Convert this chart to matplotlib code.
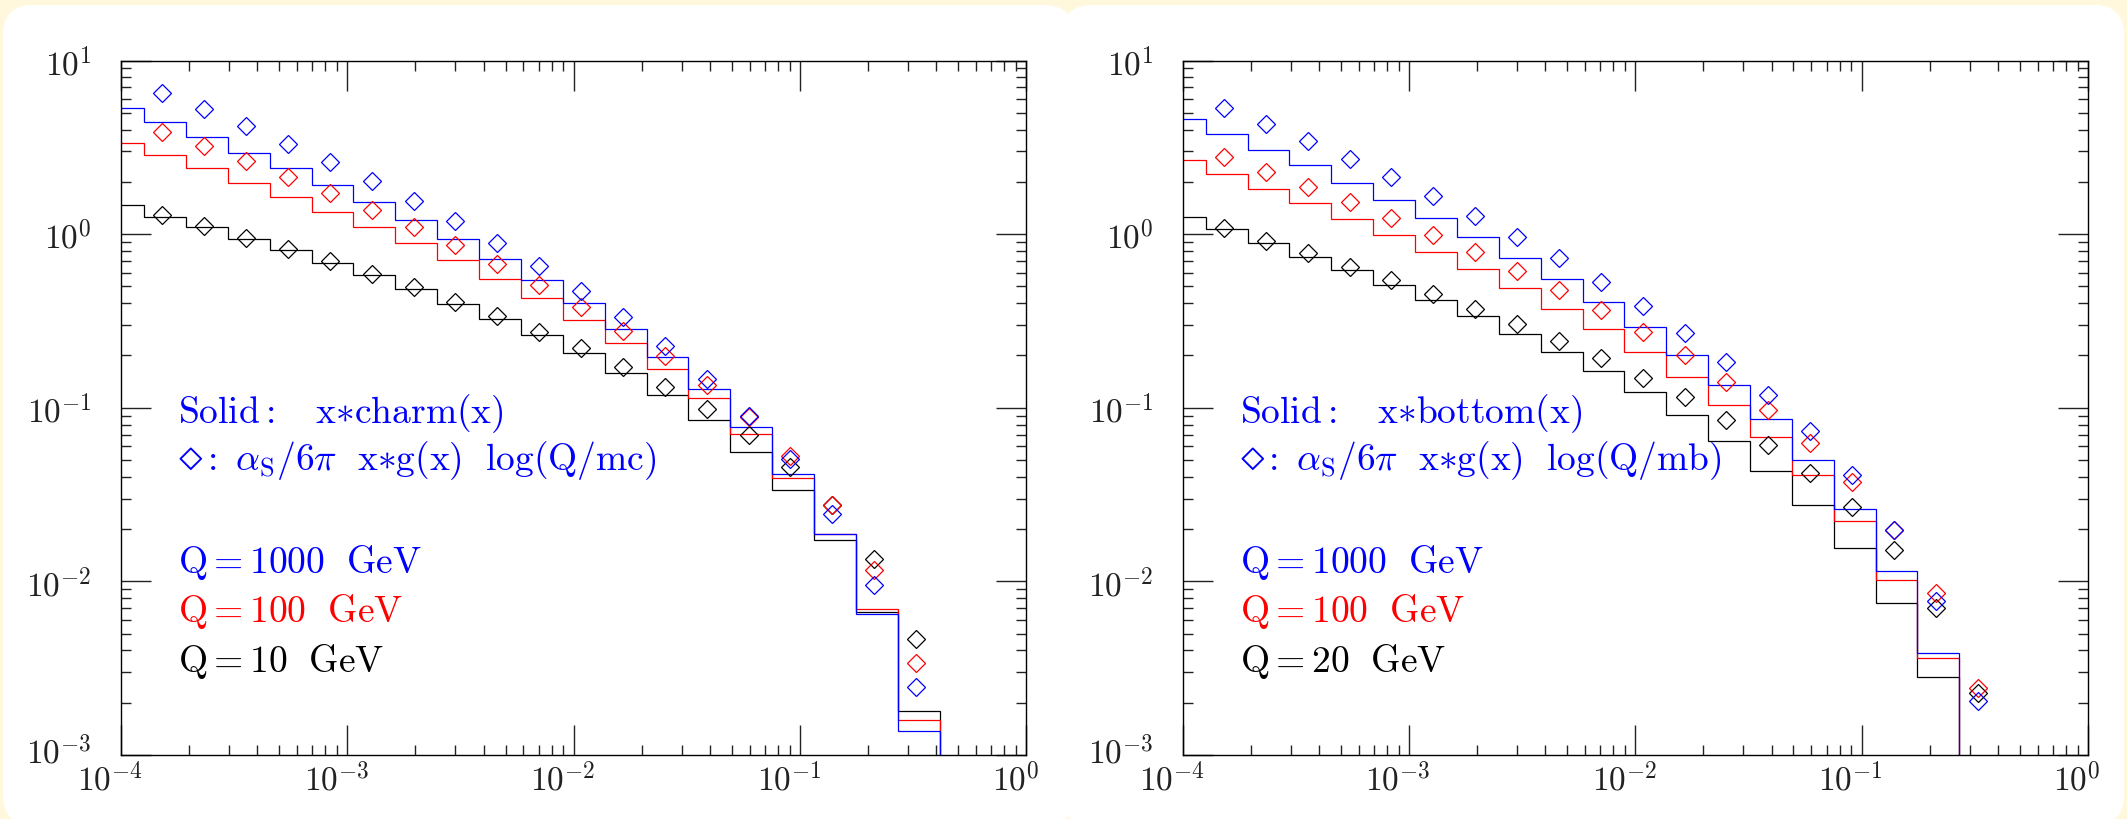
import matplotlib
matplotlib.use('Agg')
import matplotlib.pyplot as plt
from matplotlib.patches import FancyBboxPatch
from matplotlib.ticker import FixedLocator, FixedFormatter, LogLocator, NullFormatter
from matplotlib.transforms import ScaledTranslation

plt.rcParams['mathtext.fontset'] = 'cm'
plt.rcParams['font.family'] = ['DejaVu Serif']

# ---------------- data ----------------
# histogram bin edges in x (log-spaced bins)
edges_charm = [8.3e-5, 1.265e-4, 1.936e-4, 2.965e-4, 4.539e-4, 6.950e-4, 1.064e-3,
               1.629e-3, 2.495e-3, 3.819e-3, 5.848e-3, 8.954e-3, 1.371e-2, 2.099e-2,
               3.214e-2, 4.920e-2, 7.534e-2, 0.1154, 0.1766, 0.2704, 0.414]
edges_bottom = [8.3e-5, 1.265e-4, 1.936e-4, 2.965e-4, 4.539e-4, 6.950e-4, 1.064e-3,
                1.629e-3, 2.495e-3, 3.819e-3, 5.848e-3, 8.954e-3, 1.371e-2, 2.099e-2,
                3.214e-2, 4.920e-2, 7.534e-2, 0.1154, 0.1766, 0.2704]
# x positions of the diamonds
x_diamonds = [1.523e-4, 2.332e-4, 3.570e-4, 5.466e-4, 8.370e-4, 1.282e-3, 1.962e-3,
              3.005e-3, 4.601e-3, 7.044e-3, 1.079e-2, 1.651e-2, 2.528e-2, 3.871e-2,
              5.927e-2, 9.076e-2, 0.1390, 0.2128, 0.3258]

# left panel: x*charm(x) histograms
charm_1000 = [5.31, 4.40, 3.64, 2.95, 2.39, 1.93, 1.535, 1.209, 0.940, 0.721, 0.546,
              0.401, 0.284, 0.196, 0.128, 0.0771, 0.0413, 0.0188, 0.00646, 0.00137]
charm_100 = [3.37, 2.85, 2.39, 1.98, 1.64, 1.345, 1.092, 0.884, 0.706, 0.553, 0.430,
             0.322, 0.237, 0.168, 0.1133, 0.0707, 0.0394, 0.0188, 0.0069, 0.00159]
charm_10 = [1.469, 1.258, 1.092, 0.940, 0.809, 0.681, 0.578, 0.482, 0.397, 0.3255, 0.263,
            0.207, 0.159, 0.118, 0.0845, 0.0556, 0.0334, 0.0172, 0.0067, 0.0018]
# left panel: alpha_s/6pi x*g(x) log(Q/mc)
gc_1000 = [6.54, 5.25, 4.19, 3.31, 2.61, 2.03, 1.556, 1.188, 0.884, 0.651, 0.470, 0.333,
           0.226, 0.1465, 0.0896, 0.0507, 0.0245, 0.00957, 0.00248]
gc_100 = [3.88, 3.21, 2.63, 2.14, 1.73, 1.38, 1.097, 0.864, 0.669, 0.508, 0.381, 0.278,
          0.199, 0.1352, 0.0885, 0.053, 0.0274, 0.01162, 0.0034]
gc_10 = [1.29, 1.112, 0.953, 0.816, 0.697, 0.586, 0.493, 0.408, 0.337, 0.274, 0.2197, 0.171,
         0.132, 0.0987, 0.0695, 0.0458, 0.02767, 0.01342, 0.00464]

# right panel: x*bottom(x) histograms
bottom_1000 = [4.61, 3.78, 3.07, 2.486, 1.967, 1.570, 1.231, 0.957, 0.727, 0.551, 0.408,
               0.291, 0.202, 0.136, 0.0858, 0.050, 0.026, 0.01146, 0.00385]
bottom_100 = [2.656, 2.215, 1.824, 1.508, 1.220, 0.987, 0.791, 0.626, 0.491, 0.372, 0.2826,
              0.2085, 0.150, 0.1031, 0.068, 0.041, 0.0222, 0.01018, 0.00363]
bottom_20 = [1.253, 1.064, 0.891, 0.740, 0.6175, 0.5085, 0.415, 0.337, 0.266, 0.210, 0.1625,
             0.123, 0.091, 0.0645, 0.0435, 0.0274, 0.0155, 0.00748, 0.00281]
# right panel: alpha_s/6pi x*g(x) log(Q/mb)
gb_1000 = [5.32, 4.28, 3.42, 2.70, 2.14, 1.655, 1.269, 0.965, 0.724, 0.532, 0.385, 0.27,
           0.1824, 0.1187, 0.0733, 0.0411, 0.0197, 0.00775, 0.00204]
gb_100 = [2.776, 2.285, 1.873, 1.529, 1.236, 0.987, 0.784, 0.615, 0.478, 0.3634, 0.273, 0.20,
          0.1414, 0.0965, 0.0628, 0.0376, 0.0197, 0.00858, 0.00243]
gb_20 = [1.078, 0.915, 0.774, 0.6486, 0.543, 0.4494, 0.3683, 0.302, 0.242, 0.1923, 0.149,
         0.1148, 0.0854, 0.0614, 0.0423, 0.0268, 0.0152, 0.00705, 0.00227]

xticks = [1e-4, 1e-3, 1e-2, 1e-1, 1e0]
xticklabels = [r'$10^{-4}$', r'$10^{-3}$', r'$10^{-2}$', r'$10^{-1}$', r'$10^{0}$']
yticks = [1e-3, 1e-2, 1e-1, 1e0, 1e1]
yticklabels = [r'$10^{-3}$', r'$10^{-2}$', r'$10^{-1}$', r'$10^{0}$', r'$10^{1}$']

colors = ['black', 'red', 'blue']

panels = [
    dict(edges=edges_charm, hists=[charm_10, charm_100, charm_1000],
         diam=[gc_10, gc_100, gc_1000],
         line1=r'$\mathrm{Solid:}\ \ \ \mathrm{x}{\ast}\mathrm{charm(x)}$',
         line2=r'$\mathrm{:}\ \alpha_{\mathrm{S}}/6\pi\ \ \mathrm{x}{\ast}\mathrm{g(x)}\ \ \mathrm{log(Q/mc)}$',
         qlabels=[r'$\mathrm{Q{=}1000\ \ GeV}$', r'$\mathrm{Q{=}100\ \ GeV}$', r'$\mathrm{Q{=}10\ \ GeV}$']),
    dict(edges=edges_bottom, hists=[bottom_20, bottom_100, bottom_1000],
         diam=[gb_20, gb_100, gb_1000],
         line1=r'$\mathrm{Solid:}\ \ \ \mathrm{x}{\ast}\mathrm{bottom(x)}$',
         line2=r'$\mathrm{:}\ \alpha_{\mathrm{S}}/6\pi\ \ \mathrm{x}{\ast}\mathrm{g(x)}\ \ \mathrm{log(Q/mb)}$',
         qlabels=[r'$\mathrm{Q{=}1000\ \ GeV}$', r'$\mathrm{Q{=}100\ \ GeV}$', r'$\mathrm{Q{=}20\ \ GeV}$']),
]

# ---------------- figure ----------------
W, H = 21.27, 8.2
fig = plt.figure(figsize=(W, H), dpi=100)
fig.patch.set_facecolor('#FFF8DC')

# white rounded panels
for x0, x1 in [(0.03, 10.74), (10.62, 21.24)]:
    p = FancyBboxPatch((x0, -0.06), x1 - x0, 8.2, boxstyle='round,pad=0,rounding_size=0.3',
                       transform=fig.dpi_scale_trans, facecolor='white', edgecolor='none',
                       zorder=-10)
    fig.add_artist(p)

ax_lefts = [121 / 2127, 1182.6 / 2127]
ax_w = 905.3 / 2127
ax_b = (820 - 756) / 820
ax_h = (756 - 61.5) / 820

xoff = ScaledTranslation(-11 / 100, 0, fig.dpi_scale_trans)
yup = ScaledTranslation(0, 6 / 100, fig.dpi_scale_trans)
FS = 27

for left, pnl in zip(ax_lefts, panels):
    ax = fig.add_axes([left, ax_b, ax_w, ax_h])
    ax.set_facecolor('white')
    ax.set_xscale('log')
    ax.set_yscale('log')
    for c, h in zip(colors, pnl['hists']):
        ax.stairs(h, pnl['edges'], baseline=1e-6, color=c, lw=0.9, zorder=2)
    for c, d in zip(colors, pnl['diam']):
        ax.plot(x_diamonds, d, linestyle='none', marker='D', ms=8.8, mfc='none',
                mec=c, mew=0.9, zorder=3, clip_on=False)
    ax.set_xlim(1e-4, 1.0)
    ax.set_ylim(1e-3, 10)

    ax.xaxis.set_major_locator(FixedLocator(xticks))
    ax.xaxis.set_major_formatter(FixedFormatter(xticklabels))
    ax.yaxis.set_major_locator(FixedLocator(yticks))
    ax.yaxis.set_major_formatter(FixedFormatter(yticklabels))
    ax.xaxis.set_minor_locator(LogLocator(base=10, subs=range(2, 10), numticks=20))
    ax.yaxis.set_minor_locator(LogLocator(base=10, subs=range(2, 10), numticks=20))
    ax.xaxis.set_minor_formatter(NullFormatter())
    ax.yaxis.set_minor_formatter(NullFormatter())

    ax.tick_params(which='both', direction='in', top=True, right=True, colors='#222222')
    ax.tick_params(which='major', length=21.5, width=1.0)
    ax.tick_params(which='minor', length=7.2, width=1.0)
    ax.tick_params(axis='x', which='major', pad=5, labelsize=24)
    ax.tick_params(axis='y', which='major', pad=21, labelsize=24)
    for lab in ax.get_xticklabels():
        lab.set_transform(lab.get_transform() + xoff)
    # lift the lowest y label a little so it clears the x labels
    ylabs = ax.get_yticklabels()
    ylabs[0].set_transform(ylabs[0].get_transform() + yup)
    for sp in ax.spines.values():
        sp.set_linewidth(1.0)
        sp.set_color('black')

    tx = 0.0633
    ax.text(tx, 0.479, pnl['line1'], transform=ax.transAxes, color='blue', fontsize=FS,
            va='baseline', ha='left')
    # diamond symbol then the rest of the second line
    ax.text(tx, 0.412, r'$\diamond$', transform=ax.transAxes, color='blue', fontsize=34,
            va='baseline', ha='left')
    ax.annotate(pnl['line2'], xy=(tx, 0.412), xycoords='axes fraction',
                xytext=(16, 0), textcoords='offset points', color='blue', fontsize=FS,
                va='baseline', ha='left')
    for yy, lab, c in zip([0.264, 0.1925, 0.121], pnl['qlabels'], ['blue', 'red', 'black']):
        ax.text(tx, yy, lab, transform=ax.transAxes, color=c, fontsize=FS,
                va='baseline', ha='left')

fig.savefig('out.png', dpi=100, facecolor=fig.get_facecolor())
